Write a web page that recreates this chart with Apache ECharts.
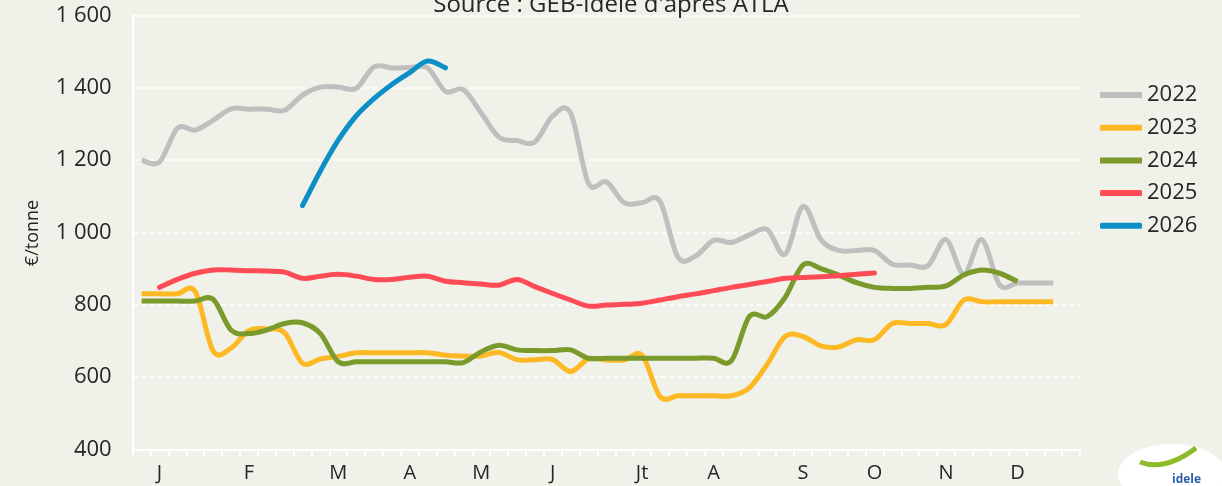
<!DOCTYPE html>
<html>
<head>
<meta charset="utf-8">
<script src="https://cdn.jsdelivr.net/npm/echarts@6/dist/echarts.min.js"></script>
<style>
html,body{margin:0;padding:0;background:#F0F1E8;}
#chart{width:1222px;height:486px;}
</style>
</head>
<body>
<div id="chart"></div>
<script>
// 53 weekly categories
var weeks = [];
for (var w = 1; w <= 53; w++) weeks.push(String(w));
var monthLabels = ['J','F','M','A','M','J','Jt','A','S','O','N','D'];
var monthLabelWeekIdx = [1,6,11,15,19,23,28,32,37,41,45,49];
var yTicks = [400, 600, 800, 1000, 1200, 1400, 1600];

var s2022 = [1200,1195,1288,1283,1310,1342,1341,1341,1338,1380,
             1402,1402,1398,1458,1455,1456,1455,1390,1395,1330,
             1263,1254,1250,1322,1330,1136,1140,1082,1082,1086,
             932,935,978,972,993,1008,940,1072,980,950,
             950,950,912,910,908,980,885,980,855,860,
             860,860,null];
var s2023 = [830,830,830,836,672,680,728,733,722,638,
             650,657,667,667,667,667,667,660,658,658,
             668,648,648,648,615,650,647,647,660,546,
             548,548,548,548,570,635,712,712,686,683,
             703,703,748,748,748,745,813,808,808,808,
             808,808,null];
var s2024 = [810,810,810,810,815,730,720,730,748,750,
             720,642,642,642,642,642,642,642,640,670,
             688,675,673,673,675,652,652,652,652,652,
             652,652,652,645,767,767,820,910,900,882,
             861,848,845,845,848,852,882,896,887,864,
             null,null,null];
var s2025 = [null,848,870,887,896,896,894,893,890,873,
             879,884,879,870,870,876,879,865,861,857,
             854,870,850,831,813,796,799,801,804,813,
             822,830,839,848,856,864,873,875,877,880,
             884,888,null,null,null,null,null,null,null,null,
             null,null,null];
var s2026 = [null,null,null,null,null,null,null,null,null,1074,
             1170,1255,1322,1370,1409,1442,1474,1455,null,null,
             null,null,null,null,null,null,null,null,null,null,
             null,null,null,null,null,null,null,null,null,null,
             null,null,null,null,null,null,null,null,null,null,
             null,null,null];

var seriesNames = ['2022','2023','2024','2025','2026'];
var seriesData = [s2022, s2023, s2024, s2025, s2026];
var colors = ['#BFBFBF','#FDB924','#7A9A2C','#FF4B55','#0C8FC7'];
var caps = ['butt','butt','butt','round','round'];
var legendIcons = ['rect','rect','rect','roundRect','roundRect'];

var FONT = '"Open Sans", "DejaVu Sans", sans-serif';
var TXT = '#262626';

function fmtY(v){
  if (v >= 1000) { var r = String(v % 1000); while (r.length < 3) r = '0' + r; return Math.floor(v/1000) + ' ' + r; }
  return String(v);
}

// pairs [weekIndex, value] for non-null values
function toPairs(arr){
  var out = [];
  for (var i = 0; i < arr.length; i++) if (arr[i] !== null) out.push([i, arr[i]]);
  return out;
}

// Excel-like smoothed line (Catmull-Rom bezier) through points projected by the axes
function makeRender(pairs, color, cap){
  return function(params, api){
    if (params.dataIndex !== 0) return null;
    var p = pairs.map(function(d){ return api.coord([d[0], d[1]]); });
    var d = 'M' + p[0][0] + ' ' + p[0][1];
    for (var k = 0; k < p.length - 1; k++){
      var p0 = p[k-1] || p[k], p1 = p[k], p2 = p[k+1], p3 = p[k+2] || p[k+1];
      var c1x = p1[0] + (p2[0]-p0[0])/6, c1y = p1[1] + (p2[1]-p0[1])/6;
      var c2x = p2[0] - (p3[0]-p1[0])/6, c2y = p2[1] - (p3[1]-p1[1])/6;
      d += ' C' + c1x + ' ' + c1y + ' ' + c2x + ' ' + c2y + ' ' + p2[0] + ' ' + p2[1];
    }
    return {
      type: 'path', shape: {pathData: d},
      style: {stroke: color, lineWidth: 5, fill: null, lineCap: cap, lineJoin: 'round'}
    };
  };
}

var chart = echarts.init(document.getElementById('chart'), null, {renderer:'canvas'});
var series = seriesNames.map(function(n, k){
  var pairs = toPairs(seriesData[k]);
  return {
    name: n, type: 'custom', data: pairs, encode: {x: 0, y: 1},
    renderItem: makeRender(pairs, colors[k], caps[k]),
    itemStyle: {color: colors[k]},
    clip: false,
    z: 2 + k
  };
});

chart.setOption({
  backgroundColor: '#F0F1E8',
  animation: false,
  textStyle: {fontFamily: FONT},
  grid: {left: 132.7, right: 142, top: 15.5, bottom: 36.7, containLabel: false},
  legend: {
    orient: 'vertical', left: 1100, top: 84, padding: 0,
    itemWidth: 42, itemHeight: 6, itemGap: 10.7, itemTextGap: 5,
    data: seriesNames.map(function(n,k){ return {name: n, icon: legendIcons[k]}; }),
    textStyle: {fontFamily: FONT, fontSize: 22, color: TXT, lineHeight: 22}
  },
  xAxis: {
    type: 'category', data: weeks, boundaryGap: true,
    axisLine: {show: true, lineStyle: {color: '#FFFFFF', width: 2}},
    axisTick: {show: true, interval: 0, length: 7, lineStyle: {color: '#FFFFFF', width: 2}},
    axisLabel: {
      interval: 0, margin: 14, fontFamily: FONT, fontSize: 20, color: TXT,
      formatter: function(v, i){ var p = monthLabelWeekIdx.indexOf(i); return p >= 0 ? monthLabels[p] : ''; }
    },
    splitLine: {show: false}
  },
  yAxis: {
    type: 'value', min: yTicks[0], max: yTicks[yTicks.length-1], interval: 200,
    axisLine: {show: true, lineStyle: {color: '#FFFFFF', width: 2}},
    axisTick: {show: false},
    axisLabel: {margin: 21, fontFamily: FONT, fontSize: 22, color: TXT, formatter: fmtY},
    splitLine: {show: true, lineStyle: {color: '#FFFFFF', width: 1.5, type: [5, 3]}}
  },
  graphic: [
    {type: 'text', left: 'center', top: -7, z: 10,
     style: {text: "Source : GEB-Idele d'après ATLA", font: '24px ' + FONT, fill: TXT}},
    {type: 'text', x: 33, y: 233, rotation: Math.PI/2, z: 10,
     style: {text: '€/tonne', font: '18px ' + FONT, fill: TXT, align: 'center', verticalAlign: 'middle'}},
    {type: 'ellipse', shape: {cx: 1172, cy: 474, rx: 54, ry: 30}, style: {fill: '#FFFFFF'}, z: 1},
    {type: 'bezierCurve', shape: {x1: 1140, y1: 462, x2: 1196, y2: 448, cpx1: 1160, cpy1: 470, cpx2: 1180, cpy2: 460},
     style: {stroke: '#8DBB2A', lineWidth: 5, fill: null}, z: 2},
    {type: 'text', x: 1172, y: 480, z: 3,
     style: {text: 'idele', font: 'bold 12px ' + FONT, fill: '#2B5DA8', align: 'left', verticalAlign: 'middle'}}
  ],
  series: series
});
</script>
</body>
</html>
